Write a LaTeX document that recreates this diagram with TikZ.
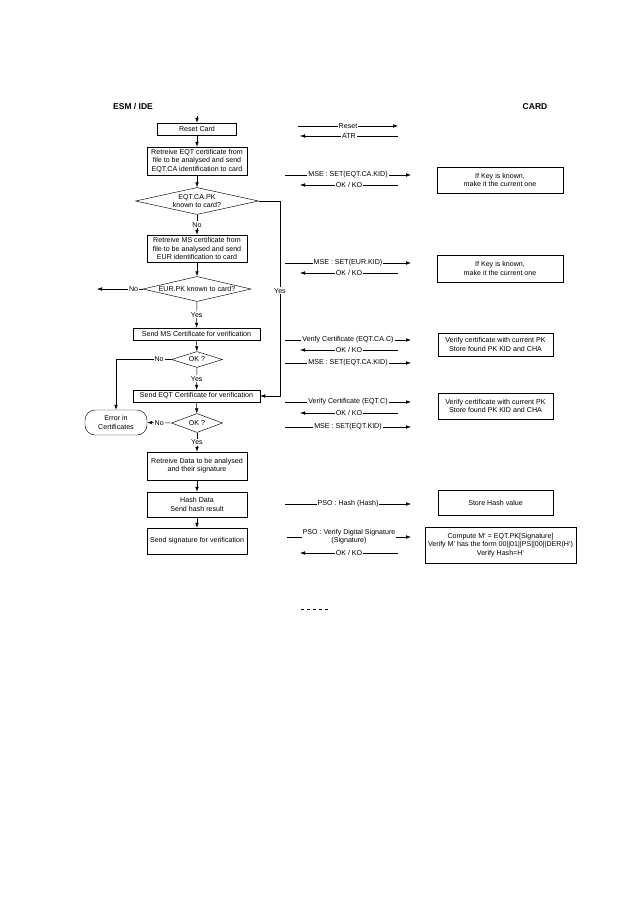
\documentclass[tikz,border=0pt]{standalone}
\usepackage{fontspec}
\setmainfont{Liberation Sans}
\usetikzlibrary{arrows.meta,shapes}

\begin{document}
\begin{tikzpicture}[x=1pt, y=-1pt, line width=0.45pt,
                        every node/.style={font=\fontsize{7.1}{8.3}\selectfont},
                        head/.style={font=\fontsize{8.5}{10}\selectfont\bfseries},
                        box/.style={draw, align=center, inner sep=0pt},
                        test/.style={draw, shape=diamond, inner sep=-2pt, align=center},
                        lbl/.style={fill=white, inner sep=1pt, align=center},
                        flow/.style={-{Latex[length=5pt,width=3.5pt]}}]
                        \useasboundingbox (0,0) rectangle (640,905);
                        \node[head] (esm) at (133,107) {ESM / IDE};
                        \node[head] (card) at (535,107) {CARD};
                        \coordinate (start) at (197,116);
                        \node[box, minimum width=79pt, minimum height=12pt] (reset) at (197,129) {Reset Card};
                        \node[box, minimum width=100pt, minimum height=28pt] (retrEQT) at (197,161) {Retreive EQT certificate from\\file to be analysed and send\\EQT.CA identification to card};
                        \node[test, aspect=4.5, minimum width=123pt, minimum height=27pt] (d1) at (197,201) {EQT.CA.PK\\known to card?};
                        \node[box, minimum width=100pt, minimum height=27pt] (retrMS) at (197,248.5) {Retreive MS certificate from\\file to be analysed and send\\EUR identification to card};
                        \node[test, aspect=4.3, minimum width=108pt, minimum height=25pt] (d2) at (197,289) {EUR.PK known to card?};
                        \node[box, minimum width=127pt, minimum height=12pt] (sendMS) at (196.5,334) {Send MS Certificate for verification};
                        \node[test, aspect=3.2, minimum width=51pt, minimum height=16pt] (d3) at (197,359.5) {OK ?};
                        \node[box, minimum width=127pt, minimum height=12pt] (sendEQT) at (196.5,396) {Send EQT Certificate for verification};
                        \node[test, aspect=2.7, minimum width=51pt, minimum height=19pt] (d4) at (197,423) {OK ?};
                        \node[box, rounded corners=10pt, minimum width=62pt, minimum height=25pt] (err) at (116,422.5) {Error in\\Certificates};
                        \node[box, minimum width=100pt, minimum height=28pt] (retrData) at (197,466) {Retreive Data to be analysed\\and their signature};
                        \node[box, minimum width=100pt, minimum height=25pt] (hash) at (197,504.5) {Hash Data\\Send hash result};
                        \node[box, minimum width=100pt, minimum height=26pt] (sendSig) at (197,541) {Send signature for verification};
                        \draw[flow] (start) -- (reset);
                        \draw[flow] (reset) -- (retrEQT);
                        \draw[flow] (retrEQT) -- (d1);
                        \draw[flow] (d1) -- node[lbl] {No} (retrMS);
                        \coordinate (bend) at (280,201);
                        \draw[flow] (d1.east) -- (bend) |- node[lbl, pos=0.23] {Yes} (sendEQT.east);
                        \draw[flow] (retrMS) -- (d2);
                        \coordinate (d2no) at (97,289);
                        \draw[flow] (d2.west) -- node[lbl, pos=0.2] {No} (d2no);
                        \draw[flow] (d2) -- node[lbl] {Yes} (sendMS);
                        \draw[flow] (sendMS) -- (d3);
                        \draw[flow] (d3.west) -| node[lbl, pos=0.11] {No} (err.north);
                        \draw[flow] (d3) -- node[lbl] {Yes} (sendEQT);
                        \draw[flow] (sendEQT) -- (d4);
                        \draw[flow] (d4.west) -- node[lbl] {No} (err.east);
                        \draw[flow] (d4) -- node[lbl] {Yes} (retrData);
                        \draw[flow] (retrData) -- (hash);
                        \draw[flow] (hash) -- (sendSig);
                        \foreach \y/\a/\b/\t in {126/298/398/{Reset}, 136/398/300/{ATR},
                            175/285/411/{MSE : SET(EQT.CA.KID)}, 185/398/300/{OK / KO},
                            263/285/411/{MSE : SET(EUR.KID)}, 273/398/300/{OK / KO},
                            340/285/411/{Verify Certificate (EQT.CA.C)}, 350/398/300/{OK / KO},
                            363/285/411/{MSE : SET(EQT.CA.KID)},
                            402/285/411/{Verify Certificate (EQT.C)}, 413/398/300/{OK / KO},
                            427/285/411/{MSE : SET(EQT.KID)},
                            504/285/411/{PSO : Hash (Hash)},
                            537/287/411/{PSO : Verify Digital Signature\\(Signature)},
                            553/398/300/{OK / KO}}
                        {
                            \coordinate (m\y a) at (\a,\y);
                            \coordinate (m\y b) at (\b,\y);
                            \draw[flow] (m\y a) -- node[lbl] {\t} (m\y b);
                        }
                        \node[box, minimum width=126pt, minimum height=26pt] (key1) at (500,180) {If Key is known,\\make it the current one};
                        \node[box, minimum width=126pt, minimum height=27pt] (key2) at (500,268.5) {If Key is known,\\make it the current one};
                        \node[box, minimum width=115pt, minimum height=23pt] (ver1) at (495.5,344.5) {Verify certificate with current PK\\Store found PK KID and CHA};
                        \node[box, minimum width=115pt, minimum height=26pt] (ver2) at (495.5,406) {Verify certificate with current PK\\Store found PK KID and CHA};
                        \node[box, minimum width=115pt, minimum height=25pt] (store) at (495.5,502.5) {Store Hash value};
                        \node[box, minimum width=151pt, minimum height=36pt] (comp) at (500.5,545) {Compute M' = EQT.PK[Signature]\\Verify M' has the form 00||01||PS||00||DER(H')\\Verify Hash=H'};
                        \coordinate (footl) at (301,609);
                        \coordinate (footr) at (328,609);
                        \draw[dashed, dash pattern=on 3pt off 3pt] (footl) -- (footr);
                    \end{tikzpicture}
\end{document}
